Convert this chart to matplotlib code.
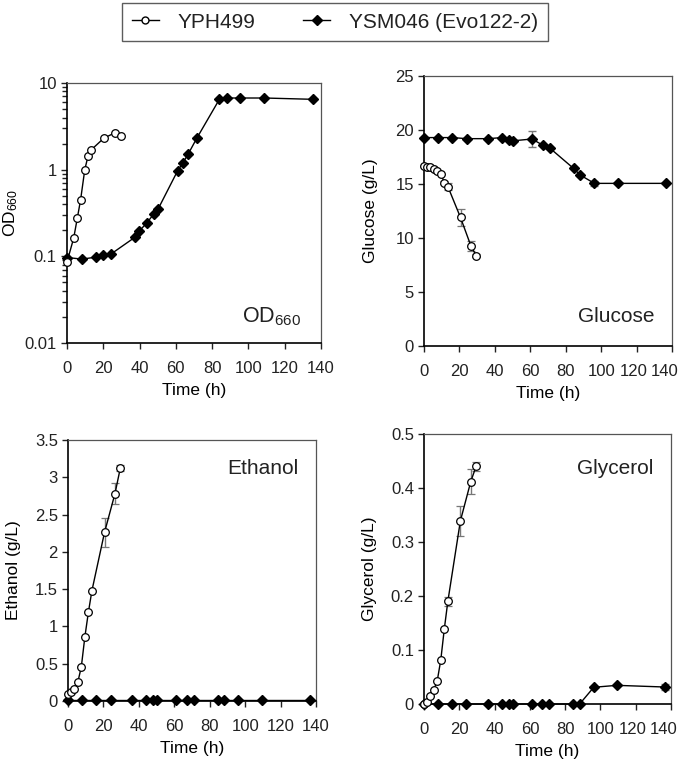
import numpy as np
import matplotlib.pyplot as plt
import matplotlib.transforms as mtransforms
from matplotlib.lines import Line2D
from matplotlib.ticker import LogLocator, NullFormatter

plt.rcParams['font.family'] = ['Liberation Sans', 'DejaVu Sans']
plt.rcParams['mathtext.default'] = 'regular'
plt.rcParams['text.color'] = '#222222'
plt.rcParams['xtick.color'] = '#222222'
plt.rcParams['ytick.color'] = '#222222'

# ---- data ----
# YPH499 (open circles)
t_yph_od = [0, 3.7, 5.7, 7.5, 9.8, 11.6, 13.4, 20.4, 26.2, 29.6]
od_yph = [0.086, 0.163, 0.277, 0.45, 1.0, 1.44, 1.70, 2.32, 2.65, 2.44]

t_yph = [0, 1.5, 3.5, 5.5, 7.5, 9.5, 11.5, 13.5, 20.6, 26.5, 29.5]
glc_yph = [16.67, 16.6, 16.54, 16.36, 16.2, 15.93, 15.12, 14.75, 11.9, 9.26, 8.36]
glc_yph_err = [0, 0, 0, 0, 0, 0, 0.15, 0.3, 0.82, 0.5, 0.15]
eth_yph = [0.10, 0.116, 0.165, 0.25, 0.456, 0.858, 1.19, 1.48, 2.26, 2.78, 3.12]
eth_yph_err = [0, 0, 0, 0, 0, 0, 0, 0, 0.2, 0.14, 0.04]
gly_yph = [0.0, 0.004, 0.0148, 0.026, 0.043, 0.0816, 0.139, 0.19, 0.339, 0.412, 0.44]
gly_yph_err = [0, 0, 0, 0, 0, 0, 0, 0.008, 0.027, 0.023, 0.008]

# YSM046 (Evo122-2) (filled diamonds)
t_ysm_od = [0, 8.3, 16, 20, 24.4, 37.6, 39.8, 44, 47.9, 50.1, 61, 63.9, 66.9,
            71.5, 84, 88, 95.2, 108.8, 135.5]
od_ysm = [0.097, 0.093, 0.098, 0.103, 0.107, 0.167, 0.196, 0.243, 0.31, 0.348,
          0.974, 1.2, 1.53, 2.30, 6.49, 6.72, 6.72, 6.72, 6.49]

t_ysm = [0, 8, 16, 24, 36.3, 44, 48, 50.3, 61, 67, 71, 84.4, 88.2, 96.2, 109.3, 136.5]
glc_ysm = [19.3, 19.3, 19.3, 19.2, 19.2, 19.3, 19.1, 19.0, 19.17, 18.6, 18.33,
           16.45, 15.83, 15.06, 15.06, 15.06]
glc_ysm_err = [0, 0, 0, 0, 0, 0, 0, 0, 0.74, 0, 0, 0, 0.1, 0.25, 0, 0]
eth_ysm = [0.01] * 16
gly_ysm = [0, 0, 0, 0, 0, 0, 0, 0, 0, 0, 0, 0, 0, 0.031, 0.0346, 0.0315]
gly_ysm_err = [0] * 15 + [0.006]

strains = ['YPH499', 'YSM046 (Evo122-2)']

fig = plt.figure(figsize=(6.85, 7.64), dpi=100)

ax_od = fig.add_axes([0.0978, 0.5510, 0.3708, 0.3403])
ax_glc = fig.add_axes([0.619, 0.5471, 0.362, 0.3534])
ax_eth = fig.add_axes([0.0993, 0.0825, 0.362, 0.3416])
ax_gly = fig.add_axes([0.619, 0.0785, 0.3606, 0.3534])

circ = dict(marker='o', ms=5.5, mfc='white', mec='black', mew=0.9, color='black', lw=1.0)
diam = dict(marker='D', ms=5.5, mfc='black', mec='black', color='black', lw=1.0)
ebar = dict(ecolor='#777777', elinewidth=1.0, capsize=3, capthick=1.0)

FS = 12.5
TFS = 12


def style(ax, ylabel, ylab_x):
    ax.set_xlim(0, 140)
    ax.set_xticks(np.arange(0, 141, 20))
    ax.set_xlabel('Time (h)', fontsize=FS, labelpad=5.5)
    ax.set_ylabel(ylabel, fontsize=FS)
    ax.yaxis.set_label_coords(ylab_x, 0.5)
    ax.tick_params(direction='out', length=4.3, width=1, labelsize=TFS,
                   right=False, top=False)
    ax.tick_params(axis='x', pad=8.5)
    ax.tick_params(axis='y', pad=3)
    ax.tick_params(which='minor', direction='out', length=3.5, width=1,
                   right=False, top=False)
    for s in ('left', 'bottom'):
        ax.spines[s].set_color('black')
        ax.spines[s].set_linewidth(1.2)
    for s in ('top', 'right'):
        ax.spines[s].set_color('#555555')
        ax.spines[s].set_linewidth(0.9)


def pull_last_xlabels(ax):
    # the last x tick labels of the right-hand panels sit a little inward
    labs = ax.get_xticklabels()
    for lab, dx in ((labs[-2], -3), (labs[-1], -7)):
        lab.set_transform(lab.get_transform() +
                          mtransforms.ScaledTranslation(dx / 100, 0, fig.dpi_scale_trans))


# OD660
ax_od.set_yscale('log')
ax_od.plot(t_ysm_od, od_ysm, clip_on=False, zorder=3, **diam)
ax_od.plot(t_yph_od, od_yph, clip_on=False, zorder=4, **circ)
ax_od.set_ylim(0.01, 10)
ax_od.set_yticks([0.01, 0.1, 1, 10])
ax_od.set_yticklabels(['0.01', '0.1', '1', '10'])
ax_od.yaxis.set_minor_locator(LogLocator(base=10, subs=np.arange(2, 10), numticks=20))
ax_od.yaxis.set_minor_formatter(NullFormatter())
style(ax_od, 'OD$_{660}$', -0.185)
ax_od.text(0.92, 0.081, 'OD$_{660}$', transform=ax_od.transAxes, ha='right',
           va='baseline', fontsize=15.5)

# Glucose
ax_glc.errorbar(t_ysm, glc_ysm, yerr=glc_ysm_err, clip_on=False, zorder=3, **diam, **ebar)
ax_glc.errorbar(t_yph, glc_yph, yerr=glc_yph_err, clip_on=False, zorder=4, **circ, **ebar)
ax_glc.set_ylim(0, 25)
ax_glc.set_yticks(np.arange(0, 26, 5))
style(ax_glc, 'Glucose (g/L)', -0.185)
pull_last_xlabels(ax_glc)
ax_glc.text(0.93, 0.089, 'Glucose', transform=ax_glc.transAxes, ha='right',
            va='baseline', fontsize=15)

# Ethanol
ax_eth.errorbar(t_ysm, eth_ysm, clip_on=False, zorder=3, **diam)
ax_eth.errorbar(t_yph, eth_yph, yerr=eth_yph_err, clip_on=False, zorder=4, **circ, **ebar)
ax_eth.set_ylim(0, 3.5)
ax_eth.set_yticks(np.arange(0, 3.6, 0.5))
ax_eth.set_yticklabels(['0', '0.5', '1', '1.5', '2', '2.5', '3', '3.5'])
style(ax_eth, 'Ethanol (g/L)', -0.19)
ax_eth.text(0.93, 0.87, 'Ethanol', transform=ax_eth.transAxes, ha='right',
            va='baseline', fontsize=15)

# Glycerol
ax_gly.errorbar(t_ysm, gly_ysm, yerr=gly_ysm_err, clip_on=False, zorder=3, **diam, **ebar)
ax_gly.errorbar(t_yph, gly_yph, yerr=gly_yph_err, clip_on=False, zorder=4, **circ, **ebar)
ax_gly.set_ylim(0, 0.5)
ax_gly.set_yticks(np.arange(0, 0.51, 0.1))
ax_gly.set_yticklabels(['0', '0.1', '0.2', '0.3', '0.4', '0.5'])
style(ax_gly, 'Glycerol (g/L)', -0.19)
pull_last_xlabels(ax_gly)
ax_gly.text(0.93, 0.852, 'Glycerol', transform=ax_gly.transAxes, ha='right',
            va='baseline', fontsize=15)

handles = [Line2D([], [], marker='o', ms=5, mfc='white', mec='black', color='black', lw=1),
           Line2D([], [], marker='D', ms=5, mfc='black', mec='black', color='black', lw=1)]
leg = fig.legend(handles, strains, loc='center', bbox_to_anchor=(0.489, 0.971),
                 ncol=2, fontsize=15, frameon=True, fancybox=False,
                 handlelength=1.3, columnspacing=2.3, borderpad=0.45,
                 handletextpad=0.9, borderaxespad=0)
leg.get_frame().set_edgecolor('#333333')
leg.get_frame().set_linewidth(1.0)

fig.savefig('out.png', dpi=100)
